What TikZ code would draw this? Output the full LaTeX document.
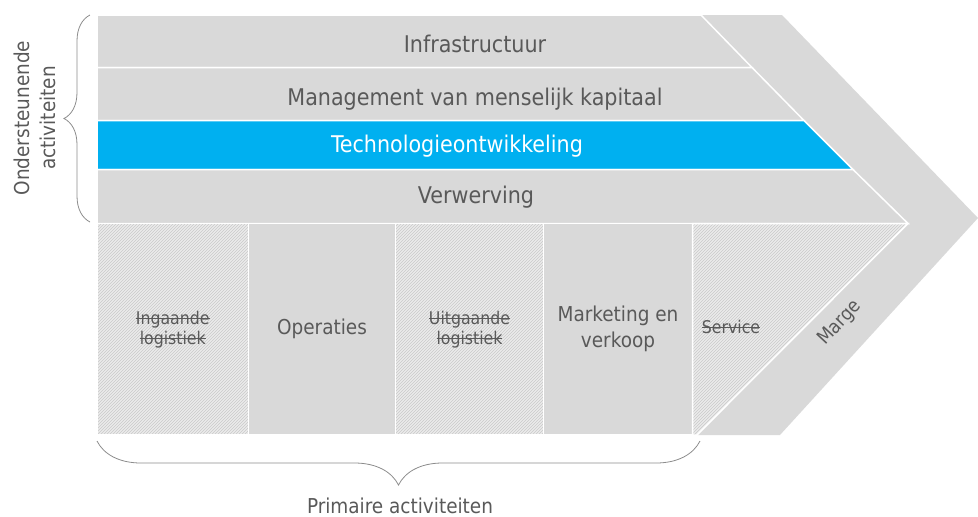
\documentclass[tikz,border=0pt]{standalone}
\usepackage{fontspec}
\setmainfont{DejaVu Sans Condensed}
\usepackage{xcolor}
\usetikzlibrary{patterns,decorations.pathreplacing}

\definecolor{rowgray}{HTML}{D9D9D9}
\definecolor{techblue}{HTML}{00B0F0}
\definecolor{txtgray}{HTML}{595959}
\definecolor{hatchbg}{HTML}{EBEBEB}
\definecolor{hatchln}{HTML}{CACACA}
\definecolor{bracegray}{HTML}{8C8C8C}

\newsavebox{\strikebox}
\newcommand{\striketxt}[1]{\sbox{\strikebox}{#1}\rlap{\rule[0.3em]{\wd\strikebox}{0.07em}}\usebox{\strikebox}}

\tikzset{
	rowshape/.style={fill=rowgray, draw=white, line width=1.5pt},
	rowlabel/.style={text=txtgray, font=\fontsize{23}{26}\selectfont},
	primbox/.style={rectangle, fill=rowgray, draw=white, line width=1.5pt, minimum height=211.5pt, text=txtgray, align=center, font=\fontsize{20.5}{26}\selectfont},
	hatchbox/.style={primbox, pattern=north east lines, pattern color=hatchln, preaction={fill=hatchbg}, font=\fontsize{17.5}{20}\selectfont},
	bracket/.style={draw=bracegray, line width=0.8pt, decorate},
	sidelabel/.style={text=txtgray, align=center, inner sep=1pt, font=\fontsize{20.5}{26}\selectfont}
}

\begin{document}
\begin{tikzpicture}[x=1pt, y=1pt]
			\useasboundingbox (0,0) rectangle (978,-517);
			
			\fill[rowgray] (97,-15) -- (782,-15) -- (978,-218) -- (780,-435) -- (97,-435) -- cycle;
			
			\draw[rowshape] (97,-15) -- (701,-15) -- (752,-67.5) -- (97,-67.5) -- cycle;
			\draw[rowshape] (97,-67.5) -- (752,-67.5) -- (804,-120.5) -- (97,-120.5) -- cycle;
			\draw[rowshape, fill=techblue] (97,-120.5) -- (804,-120.5) -- (853,-169.5) -- (97,-169.5) -- cycle;
			\draw[rowshape] (97,-169.5) -- (853,-169.5) -- (908,-223.5) -- (97,-223.5) -- cycle;
			
			\node[rowlabel] (infra) at (475,-44) {Infrastructuur};
			\node[rowlabel] (hrm) at (475,-99) {Management van menselijk kapitaal};
			\node[rowlabel, text=white] (tech) at (457,-146) {Technologieontwikkeling};
			\node[rowlabel] (inkoop) at (476,-197) {Verwerving};
			
			\node[hatchbox, minimum width=151.5pt] (in) at (172.75,-329.25) {\striketxt{Ingaande}\\\striketxt{logistiek}};
			\node[primbox, minimum width=147pt] (ops) at (322,-329.25) {Operaties};
			\node[hatchbox, minimum width=148pt] (uit) at (469.5,-329.25) {\striketxt{Uitgaande}\\\striketxt{logistiek}};
			\node[primbox, minimum width=149pt] (mkt) at (618,-329.25) {Marketing en\\verkoop};
			
			\draw[rowshape, pattern=north east lines, pattern color=hatchln, preaction={fill=hatchbg}] (692.5,-223.5) -- (908,-223.5) -- (697,-435) -- (692.5,-435) -- cycle;
			\node[rowlabel, font=\fontsize{17.5}{20}\selectfont] (serv) at (731,-327) {\striketxt{Service}};
			\node[rowlabel, inner sep=1pt, font=\fontsize{19}{22}\selectfont, rotate=47] (marge) at (840,-323) {Marge};
			
			\coordinate (lbBot) at (90,-222);
			\coordinate (lbTop) at (90,-15);
			\coordinate (bbRight) at (700,-441);
			\coordinate (bbLeft) at (97,-441);
			\draw[bracket, decoration={brace, amplitude=26pt}] (lbBot) -- (lbTop);
			\draw[bracket, decoration={brace, amplitude=44pt}] (bbRight) -- (bbLeft);
			
			\node[sidelabel, rotate=90] (support) at (35,-118) {Ondersteunende\\activiteiten};
			\node[sidelabel] (primary) at (400,-506) {Primaire activiteiten};
		\end{tikzpicture}
\end{document}
